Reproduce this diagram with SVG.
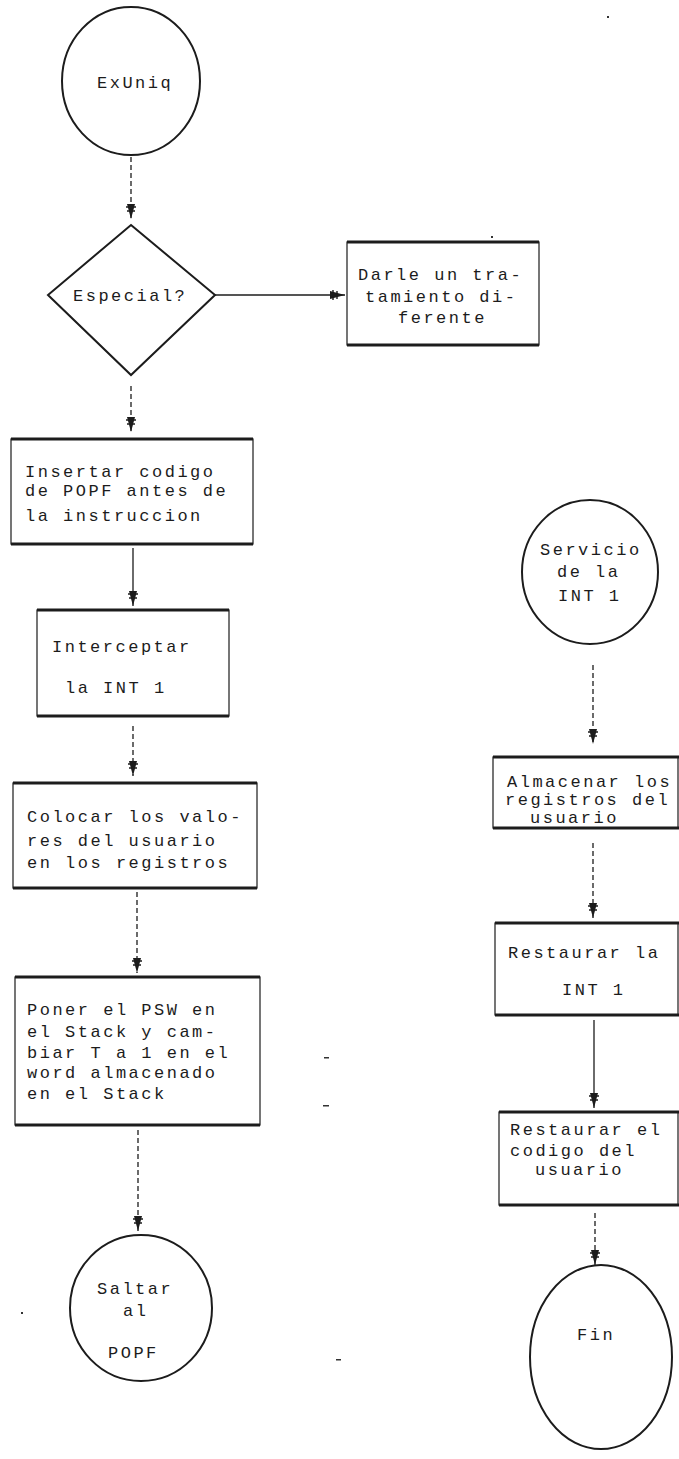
<svg xmlns="http://www.w3.org/2000/svg" width="679" height="1459" viewBox="0 0 679 1459">
  <style>
    .bg { fill: #ffffff; }
    .shape { fill: none; stroke: #1c1c1c; stroke-width: 2; }
    .side { fill: none; stroke: #1c1c1c; stroke-width: 1.2; }
    .edge { fill: none; stroke: #1c1c1c; stroke-width: 3; }
    .lbl { font-family: "Liberation Mono", "DejaVu Sans Mono", monospace; font-size: 17px; letter-spacing: 2.5px; fill: #1c1c1c; }
    .conn { fill: none; stroke: #1c1c1c; stroke-width: 1.3; }
    .dot { stroke-dasharray: 5 3; }
    .speck { fill: #333333; }
  </style>
  <defs>
    <marker id="arrow" viewBox="0 0 16 10" refX="15" refY="5" markerWidth="16" markerHeight="10" markerUnits="userSpaceOnUse" orient="auto">
      <path d="M0,1 L15,5 L0,9 Z" fill="#1c1c1c"/>
      <path d="M3,0 V10 M7,1 V9" stroke="#1c1c1c" stroke-width="1.4"/>
    </marker>
  </defs>
  <rect class="bg" x="0" y="0" width="679" height="1459"/>

  <!-- connectors -->
  <g id="connectors">
    <path class="conn dot" d="M131,157 V219" marker-end="url(#arrow)"/>
    <path class="conn" d="M215,295 H345" marker-end="url(#arrow)"/>
    <path class="conn dot" d="M131,386 V432" marker-end="url(#arrow)"/>
    <path class="conn" d="M133,548 V606" marker-end="url(#arrow)"/>
    <path class="conn dot" d="M133,726 V776" marker-end="url(#arrow)"/>
    <path class="conn dot" d="M137,892 V973" marker-end="url(#arrow)"/>
    <path class="conn dot" d="M138,1130 V1231" marker-end="url(#arrow)" stroke-dasharray="10 6 2 20"/>
    <path class="conn dot" d="M593,665 V744" marker-end="url(#arrow)"/>
    <path class="conn dot" d="M593,843 V918" marker-end="url(#arrow)" stroke-dasharray="3 8"/>
    <path class="conn" d="M594,1020 V1108" marker-end="url(#arrow)"/>
    <path class="conn dot" d="M595,1213 V1265" marker-end="url(#arrow)"/>
  </g>

  <!-- start terminal -->
  <g id="n-exuniq">
    <ellipse class="shape" cx="131" cy="81" rx="69" ry="74"/>
    <text class="lbl" x="97" y="88">ExUniq</text>
  </g>

  <!-- decision -->
  <g id="n-especial">
    <polygon class="shape" points="131,225 215,295 131,375 48,295"/>
    <text class="lbl" x="73" y="301">Especial?</text>
  </g>

  <g id="n-darle">
    <rect class="side" x="347" y="242" width="192" height="103"/>
    <path class="edge" d="M347,242 H539 M347,345 H539"/>
    <text class="lbl" x="358" y="280">Darle un tra-</text>
    <text class="lbl" x="365" y="302">tamiento di-</text>
    <text class="lbl" x="398" y="323">ferente</text>
  </g>

  <g id="n-insertar">
    <rect class="side" x="11" y="439" width="242" height="105"/>
    <path class="edge" d="M11,439 H253 M11,544 H253"/>
    <text class="lbl" x="25" y="477">Insertar codigo</text>
    <text class="lbl" x="25" y="496">de POPF antes de</text>
    <text class="lbl" x="25" y="521">la instruccion</text>
  </g>

  <g id="n-interceptar">
    <rect class="side" x="37" y="610" width="192" height="106"/>
    <path class="edge" d="M37,610 H229 M37,716 H229"/>
    <text class="lbl" x="52" y="652">Interceptar</text>
    <text class="lbl" x="65" y="693">la INT 1</text>
  </g>

  <g id="n-colocar">
    <rect class="side" x="13" y="783" width="244" height="105"/>
    <path class="edge" d="M13,783 H257 M13,888 H257"/>
    <text class="lbl" x="27" y="822">Colocar los valo-</text>
    <text class="lbl" x="27" y="846">res del usuario</text>
    <text class="lbl" x="27" y="868">en los registros</text>
  </g>

  <g id="n-poner">
    <rect class="side" x="15" y="977" width="245" height="148"/>
    <path class="edge" d="M15,977 H260 M15,1125 H260"/>
    <text class="lbl" x="27" y="1015">Poner el PSW en</text>
    <text class="lbl" x="27" y="1037">el Stack y cam-</text>
    <text class="lbl" x="27" y="1058">biar T a 1 en el</text>
    <text class="lbl" x="27" y="1078">word almacenado</text>
    <text class="lbl" x="27" y="1099">en el Stack</text>
  </g>

  <g id="n-saltar">
    <ellipse class="shape" cx="141" cy="1308" rx="71" ry="73"/>
    <text class="lbl" x="97" y="1294">Saltar</text>
    <text class="lbl" x="123" y="1316">al</text>
    <text class="lbl" x="108" y="1358">POPF</text>
  </g>

  <!-- interrupt service routine -->
  <g id="n-servicio">
    <ellipse class="shape" cx="590" cy="572" rx="68" ry="72"/>
    <text class="lbl" x="540" y="555">Servicio</text>
    <text class="lbl" x="557" y="577">de la</text>
    <text class="lbl" x="558" y="601">INT 1</text>
  </g>

  <g id="n-almacenar">
    <rect class="side" x="493" y="757" width="185" height="71"/>
    <path class="edge" d="M493,757 H679 M493,828 H679"/>
    <text class="lbl" x="507" y="787">Almacenar los</text>
    <text class="lbl" x="505" y="805">registros del</text>
    <text class="lbl" x="530" y="823">usuario</text>
  </g>

  <g id="n-restaurar-int">
    <rect class="side" x="495" y="923" width="183" height="92"/>
    <path class="edge" d="M495,923 H679 M495,1015 H679"/>
    <text class="lbl" x="508" y="958">Restaurar la</text>
    <text class="lbl" x="562" y="995">INT 1</text>
  </g>

  <g id="n-restaurar-codigo">
    <rect class="side" x="499" y="1112" width="179" height="93"/>
    <path class="edge" d="M499,1112 H679 M499,1205 H679"/>
    <text class="lbl" x="510" y="1135">Restaurar el</text>
    <text class="lbl" x="510" y="1156">codigo del</text>
    <text class="lbl" x="535" y="1175">usuario</text>
  </g>

  <g id="n-fin">
    <ellipse class="shape" cx="601" cy="1357" rx="71" ry="92"/>
    <text class="lbl" x="577" y="1340">Fin</text>
  </g>

  <!-- loose printer marks -->
  <g id="specks">
    <rect class="speck" x="607" y="16" width="2" height="2"/>
    <rect class="speck" x="491" y="236" width="2" height="2"/>
    <rect class="speck" x="324" y="1057" width="5" height="1.5"/>
    <rect class="speck" x="323" y="1105" width="6" height="1.5"/>
    <rect class="speck" x="21" y="1312" width="2" height="2"/>
    <rect class="speck" x="336" y="1359" width="5" height="1.5"/>
  </g>
</svg>
